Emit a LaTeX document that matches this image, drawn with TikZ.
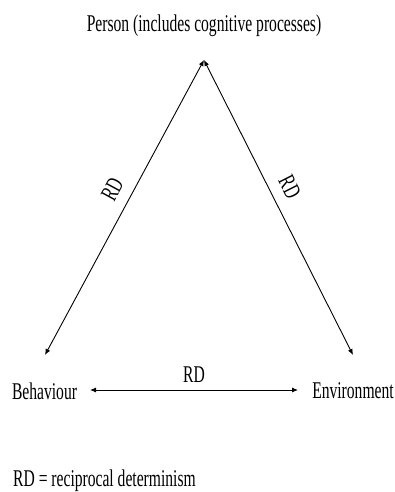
\documentclass[tikz,border=0pt]{standalone}
\usepackage{fontspec}
\setmainfont{Liberation Serif}[FakeStretch=0.65]
\usetikzlibrary{arrows.meta}

\begin{document}
\begin{tikzpicture}[x=1pt,y=-1pt,>={Latex[length=6pt,width=5pt]},
  every node/.style={font=\fontsize{24}{28}\selectfont,inner sep=0pt},
  link/.style={<->,line width=0.9pt}]
  \useasboundingbox (0,0) rectangle (394,492);
  \node (person) at (204,26) {Person (includes cognitive processes)};
  \node (behaviour) at (44.5,391) {Behaviour};
  \node (environment) at (353,391) {Environment};
  \node[anchor=west] (legend) at (13,481) {RD = reciprocal determinism};
  % reciprocal links
  \draw[link] ([shift={(0.5pt,36pt)}]behaviour.center) -- ([yshift=-34pt]person.center)
    node[pos=.53,sloped,above=11pt] {RD};
  \draw[link] ([yshift=-34pt]person.center) -- ([yshift=36pt]environment.center)
    node[pos=.46,sloped,above=11pt] {RD};
  \draw[link] ([shift={(45.5pt,1pt)}]behaviour.center) -- ([shift={(-55pt,1pt)}]environment.center)
    node[midway,above=7pt] {RD};
\end{tikzpicture}
\end{document}
